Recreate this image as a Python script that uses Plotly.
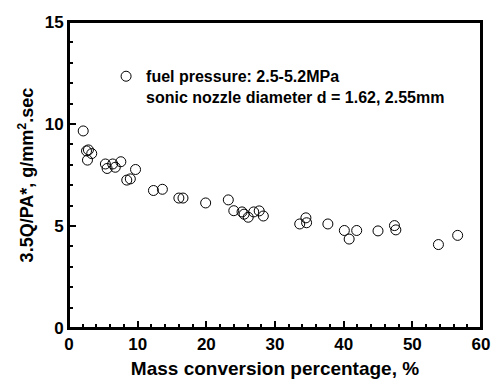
import plotly.graph_objects as go

# Mass conversion percentage (%) and normalised flow rate 3.5Q/PA* (g/mm^2.sec)
mass_conversion = [
    2.07, 2.55, 2.83, 3.31, 2.69,
    5.3, 5.55, 6.36, 6.74, 7.55, 9.69, 8.41, 8.93,
    12.3, 13.6, 16.0, 16.6, 19.9,
    23.2, 24.0, 25.2, 25.5, 26.1, 26.9, 27.7, 28.3,
    33.6, 34.5, 34.6, 37.7, 40.1, 40.8, 41.9,
    45.0, 47.4, 47.6, 53.8, 56.6,
]
flow_rate = [
    9.66, 8.68, 8.73, 8.55, 8.23,
    8.04, 7.82, 8.04, 7.88, 8.15, 7.77, 7.25, 7.31,
    6.74, 6.80, 6.37, 6.37, 6.13,
    6.28, 5.75, 5.69, 5.58, 5.43, 5.69, 5.74, 5.49,
    5.10, 5.40, 5.16, 5.10, 4.78, 4.36, 4.78,
    4.76, 5.02, 4.81, 4.09, 4.54,
]

x_ticks = [0, 10, 20, 30, 40, 50, 60]
y_ticks = [0, 5, 10, 15]

series_name = "<b>fuel pressure: 2.5-5.2MPa<br>sonic nozzle diameter d = 1.62, 2.55mm</b>"

FONT = "Arial, Liberation Sans, sans-serif"

fig = go.Figure()
fig.add_trace(go.Scatter(
    x=mass_conversion, y=flow_rate, mode="markers", name=series_name,
    marker=dict(symbol="circle-open", size=10, color="black", line=dict(width=1)),
))

axis_common = dict(
    showline=True, linewidth=2, linecolor="black", mirror=True,
    ticks="inside", ticklen=7, tickwidth=2, tickcolor="black",
    showgrid=False, zeroline=False,
    tickfont=dict(family=FONT, size=17, color="black"),
)

fig.update_xaxes(
    range=[0, 60], tickmode="array", tickvals=x_ticks,
    ticktext=[f"<b>{v}</b>" for v in x_ticks],
    minor=dict(ticks="inside", dtick=2, ticklen=4, tickwidth=2, tickcolor="black"),
    title=dict(text="<b>Mass conversion percentage, %</b>",
               font=dict(family=FONT, size=19, color="black"), standoff=8),
    **axis_common,
)
fig.update_yaxes(
    range=[0, 15], tickmode="array", tickvals=y_ticks,
    ticktext=[f"<b>{v}</b>" for v in y_ticks],
    minor=dict(ticks="inside", dtick=1, ticklen=4, tickwidth=2, tickcolor="black"),
    title=dict(text="<b>3.5Q/PA*, g/mm<sup>2</sup>.sec</b>",
               font=dict(family=FONT, size=18, color="black"), standoff=6),
    **axis_common,
)

# Closed frame round the plotting area
fig.add_shape(type="rect", xref="paper", yref="paper", x0=0, y0=0, x1=1, y1=1,
              line=dict(color="black", width=2), layer="above")

fig.update_layout(
    width=502, height=388,
    margin=dict(l=69, r=12, t=22, b=53),
    plot_bgcolor="white", paper_bgcolor="white",
    showlegend=True,
    legend=dict(
        x=0.09, y=0.878, xanchor="left", yanchor="top",
        valign="top", bgcolor="rgba(0,0,0,0)",
        font=dict(family=FONT, size=16, color="black"),
    ),
)

fig.write_html("out.html", config={"displayModeBar": False})
